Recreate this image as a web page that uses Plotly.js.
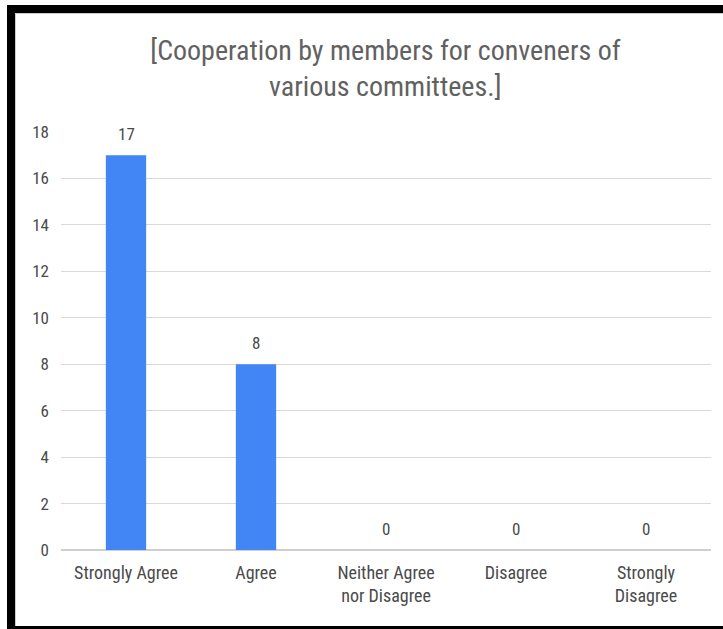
<!DOCTYPE html>
<html>
<head>
<meta charset="utf-8">
<script src="https://cdn.plot.ly/plotly-3.0.1.min.js"></script>
<style>
html,body{margin:0;padding:0;background:#fff;overflow:hidden;}
#chart{width:723px;height:629px;}
#frame{position:absolute;left:7px;top:5px;width:760px;height:613px;border-left:8px solid #000;border-top:8px solid #000;border-bottom:8px solid #000;pointer-events:none;box-shadow:inset 1px 1px 0 #ccc;}
</style>
</head>
<body>
<div id="chart"></div>
<div id="frame"></div>
<script>
const categories = ["Strongly Agree", "Agree", "Neither Agree<br>nor Disagree", "Disagree", "Strongly<br>Disagree"];
const counts = [17, 8, 0, 0, 0];
const yTicks = [0, 2, 4, 6, 8, 10, 12, 14, 16, 18];

const FONT = "'Liberation Sans Narrow', 'Roboto Condensed', Roboto, Arial, sans-serif";

const trace = {
  type: "bar",
  x: categories,
  y: counts,
  marker: {color: "#4285F4"},
  hoverinfo: "x+y"
};

const annotations = categories.map((c, i) => ({
  x: c, y: counts[i], xref: "x", yref: "y",
  text: String(counts[i]), showarrow: false,
  yshift: 21, font: {family: FONT, size: 17, color: "#4a4a4a"}
}));

const layout = {
  width: 723, height: 629,
  margin: {l: 61, r: 12, t: 132, b: 79},
  paper_bgcolor: "#fff", plot_bgcolor: "#fff",
  title: {
    text: "[Cooperation by members for conveners of<br>various committees.]",
    font: {family: FONT, size: 28, color: "#616161"},
    x: 0.533, xanchor: "center", y: 0.905, yanchor: "middle"
  },
  bargap: 0.69,
  showlegend: false,
  xaxis: {
    type: "category",
    tickfont: {family: FONT, size: 18, color: "#4a4a4a"},
    showgrid: false, zeroline: false, showline: false, ticks: "",
    ticklabelstandoff: 10,
    fixedrange: true
  },
  yaxis: {
    range: [0, 18],
    tickvals: yTicks,
    tickfont: {family: FONT, size: 17, color: "#4a4a4a"},
    gridcolor: "#d9d9d9", gridwidth: 1,
    zeroline: true, zerolinecolor: "#cfcfcf", zerolinewidth: 1.5,
    ticks: "", ticklabelstandoff: 11,
    fixedrange: true
  },
  annotations: annotations
};

Plotly.newPlot("chart", [trace], layout, {displayModeBar: false, staticPlot: true});
</script>
</body>
</html>
